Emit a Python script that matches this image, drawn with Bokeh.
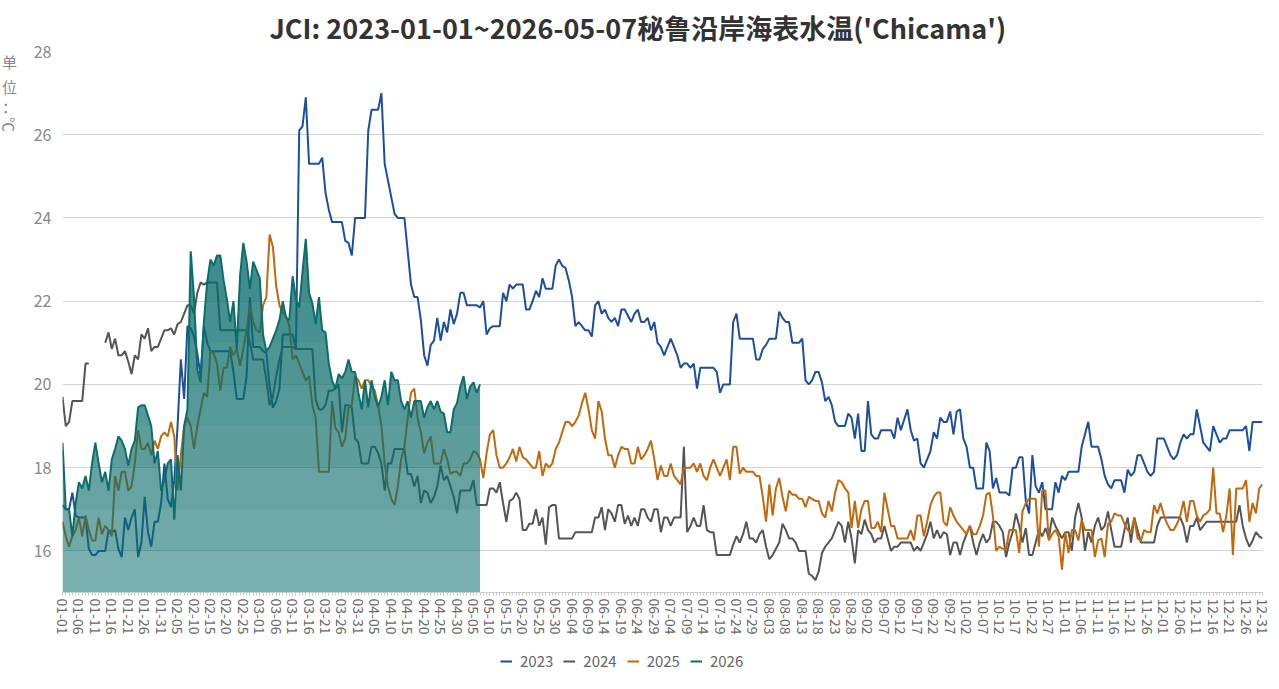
import numpy as np
import pandas as pd
from bokeh.plotting import figure
from bokeh.layouts import row, column
from bokeh.models import Range1d, FixedTicker, Legend, LegendItem, Label
from bokeh.embed import file_html
from bokeh.resources import INLINE

nan = float("nan")

# category axis: month-day of a leap year
day_labels = pd.date_range("2024-01-01", "2024-12-31").strftime("%m-%d").tolist()
years = ["2023", "2024", "2025", "2026"]
unit_chars = ["单", "位", "：", "℃"]

v2023 = [
    17.1, 17.0, 17.0, 17.4, 16.85, 16.8, 16.8, 16.8, 16.05, 15.9,
    15.9, 16.0, 16.0, 16.0, 16.5, 16.45, 16.5, 16.05, 15.85, 16.8,
    16.5, 16.8, 17.0, 15.85, 16.2, 17.3, 16.45, 16.1, 16.7, 16.7,
    17.15, 18.1, 17.25, 17.05, 17.7, 19.0, 20.6, 19.65, 21.4, 21.35,
    21.15, 20.75, 20.2, 21.4, 21.0, 20.8, 20.8, 20.8, 20.8, 20.8,
    20.8, 20.8, 20.3, 19.65, 19.65, 19.65, 20.2, 22.1, 20.9, 20.9,
    20.9, 20.8, 20.76, 19.96, 19.44, 19.6, 19.9, 21.2, 21.2, 21.2,
    21.2, 20.85, 26.1, 26.2, 26.9, 25.3, 25.3, 25.3, 25.3, 25.45,
    24.6, 24.2, 23.9, 23.9, 23.9, 23.9, 23.45, 23.4, 23.1, 24.0,
    24.0, 24.0, 24.0, 26.1, 26.6, 26.6, 26.6, 27.0, 25.3, 24.9,
    24.5, 24.1, 24.0, 24.0, 24.0, 23.2, 22.4, 22.1, 22.1, 21.55,
    20.7, 20.45, 20.95, 21.05, 21.6, 21.05, 21.5, 21.25, 21.8, 21.45,
    21.7, 22.2, 22.2, 21.9, 21.9, 21.9, 21.9, 21.85, 22.0, 21.2,
    21.35, 21.4, 21.4, 21.4, 22.2, 22.0, 22.4, 22.3, 22.4, 22.4,
    22.4, 21.8, 21.8, 22.0, 22.25, 22.1, 22.55, 22.3, 22.3, 22.3,
    22.85, 23.0, 22.85, 22.8, 22.5, 22.1, 21.4, 21.5, 21.4, 21.3,
    21.3, 21.15, 21.9, 22.0, 21.7, 21.8, 21.6, 21.5, 21.6, 21.4,
    21.8, 21.8, 21.65, 21.5, 21.7, 21.8, 21.5, 21.5, 21.6, 21.3,
    21.5, 21.0, 20.9, 20.7, 20.9, 21.1, 20.9, 20.7, 20.4, 20.5,
    20.5, 20.4, 20.5, 19.9, 20.4, 20.4, 20.4, 20.4, 20.4, 20.3,
    19.8, 20.0, 20.0, 20.0, 21.5, 21.7, 21.1, 21.1, 21.1, 21.1,
    21.1, 20.6, 20.6, 20.85, 20.95, 21.1, 21.1, 21.1, 21.75, 21.6,
    21.5, 21.5, 21.0, 21.0, 21.0, 21.1, 20.1, 20.0, 20.1, 20.3,
    20.3, 20.05, 19.6, 19.7, 19.5, 19.1, 19.0, 19.0, 19.0, 19.3,
    19.2, 18.7, 19.3, 18.4, 18.4, 19.6, 18.8, 18.7, 18.7, 18.9,
    18.9, 18.9, 18.9, 18.7, 19.2, 18.9, 19.15, 19.4, 18.9, 18.65,
    18.7, 18.1, 18.0, 18.2, 18.4, 18.85, 18.7, 19.2, 19.1, 19.1,
    19.35, 18.8, 19.35, 19.4, 18.7, 18.5, 18.0, 18.0, 17.5, 17.5,
    17.5, 18.6, 18.4, 17.5, 17.75, 17.4, 17.4, 17.4, 17.33, 18.0,
    18.0, 18.25, 18.25, 17.2, 16.9, 18.3, 17.55, 17.4, 17.65, 17.0,
    17.0, 17.0, 17.65, 17.4, 17.8, 17.7, 17.9, 17.9, 17.9, 17.9,
    18.5, 18.8, 19.1, 18.5, 18.5, 18.5, 18.2, 17.8, 17.6, 17.5,
    17.7, 17.7, 17.7, 17.4, 17.95, 17.8, 17.9, 18.3, 18.3, 18.1,
    17.9, 17.8, 17.9, 18.7, 18.7, 18.7, 18.5, 18.3, 18.2, 18.3,
    18.6, 18.8, 18.7, 18.8, 18.8, 19.4, 19.0, 18.6, 18.5, 18.4,
    19.0, 18.8, 18.6, 18.7, 18.7, 18.9, 18.9, 18.9, 18.9, 18.9,
    19.0, 18.4, 19.1, 19.1, 19.1, 19.1,
]

v2024 = [
    19.7, 19.0, 19.1, 19.6, 19.6, 19.6, 19.6, 20.5, 20.5, nan,
    nan, nan, nan, 21.0, 21.25, 20.85, 21.1, 20.7, 20.7, 20.8,
    20.55, 20.25, 20.7, 20.6, 21.2, 21.1, 21.35, 20.8, 20.9, 20.9,
    21.1, 21.3, 21.3, 21.35, 21.2, 21.45, 21.5, 21.7, 21.9, 21.9,
    21.7, 22.2, 22.45, 22.4, 22.45, 22.45, 22.45, 22.45, 21.3, 21.3,
    21.3, 21.3, 21.3, 21.3, 21.3, 21.3, 21.3, 21.0, 20.6, 20.6,
    20.6, 20.6, 20.1, 19.5, 19.7, 20.2, 20.6, 20.9, 20.9, 20.9,
    20.9, 20.85, 20.85, 20.85, 20.85, 20.85, 20.85, 19.65, 19.4, 19.4,
    19.5, 19.85, 19.85, 19.9, 20.0, 18.85, 19.5, 19.5, 19.45, 18.7,
    18.6, 18.1, 18.1, 18.1, 18.5, 18.5, 18.35, 18.1, 17.45, 18.1,
    18.1, 18.45, 18.45, 18.45, 18.45, 17.85, 17.85, 17.55, 17.8, 17.15,
    17.45, 17.4, 17.15, 17.3, 17.55, 18.05, 17.7, 17.8, 17.55, 17.3,
    16.9, 17.45, 17.45, 17.45, 17.45, 17.7, 17.1, 17.1, 17.1, 17.1,
    17.5, 17.5, 17.4, 17.65, 17.15, 16.7, 17.2, 17.25, 17.4, 17.25,
    16.5, 16.5, 16.65, 16.65, 17.0, 16.6, 16.8, 16.15, 17.05, 17.1,
    17.1, 16.3, 16.3, 16.3, 16.3, 16.3, 16.45, 16.45, 16.45, 16.45,
    16.45, 16.45, 16.8, 16.8, 17.05, 16.5, 17.0, 16.9, 16.7, 17.1,
    17.1, 16.65, 16.85, 16.6, 16.8, 16.6, 17.0, 17.0, 16.8, 16.7,
    17.0, 17.0, 16.45, 16.8, 16.8, 16.6, 16.8, 16.8, 16.8, 18.5,
    16.45, 16.6, 16.8, 16.6, 16.6, 17.1, 16.5, 16.45, 16.45, 15.9,
    15.9, 15.9, 15.9, 15.9, 16.15, 16.35, 16.2, 16.4, 16.7, 16.3,
    16.3, 16.2, 16.4, 16.5, 16.1, 15.8, 15.9, 16.05, 16.2, 16.65,
    16.5, 16.3, 16.3, 16.2, 16.0, 16.0, 16.0, 15.45, 15.4, 15.3,
    15.5, 15.95, 16.1, 16.2, 16.3, 16.5, 16.7, 16.6, 16.2, 16.7,
    16.3, 15.7, 16.5, 16.4, 16.75, 16.5, 16.4, 16.2, 16.3, 16.3,
    16.6, 16.3, 16.0, 16.1, 16.1, 16.2, 16.2, 16.2, 16.2, 16.0,
    16.1, 16.0, 16.2, 16.4, 16.7, 16.3, 16.5, 16.3, 16.45, 16.4,
    15.9, 16.2, 16.2, 15.9, 16.2, 16.4, 16.6, 16.2, 15.9, 16.2,
    16.4, 16.2, 16.3, 16.7, 16.7, 16.6, 16.45, 15.85, 16.2, 16.45,
    16.9, 16.6, 16.2, 16.55, 15.9, 15.9, 16.2, 16.5, 16.35, 16.55,
    16.3, 16.8, 16.6, 16.45, 16.3, 16.45, 16.45, 16.0, 16.8, 17.15,
    16.8, 16.0, 16.45, 16.2, 16.6, 16.8, 16.5, 16.6, 16.95, 16.5,
    16.1, 16.1, 16.1, 16.5, 16.8, 16.2, 16.8, 16.5, 16.2, 16.2,
    16.2, 16.2, 16.2, 16.6, 16.8, 16.8, 16.8, 16.8, 16.8, 16.8,
    16.8, 16.6, 16.2, 16.6, 16.6, 16.8, 16.5, 16.6, 16.7, 16.7,
    16.7, 16.7, 16.7, 16.7, 16.7, 16.7, 16.7, 16.7, 17.1, 16.6,
    16.3, 16.1, 16.25, 16.45, 16.35, 16.3,
]

v2025 = [
    16.7, 16.35, 16.1, 16.35, 16.5, 16.8, 16.35, 16.85, 16.5, 16.25,
    16.25, 16.8, 16.4, 16.6, 16.5, 16.35, 17.8, 17.45, 17.9, 17.9,
    17.45, 17.55, 18.1, 18.9, 18.45, 18.45, 18.6, 18.3, 18.65, 18.45,
    18.75, 18.85, 18.75, 19.1, 18.75, 17.45, 18.3, 19.0, 19.2, 19.0,
    18.45, 19.0, 19.4, 19.8, 19.7, 20.8, 20.75, 20.5, 19.85, 20.4,
    20.4, 20.9, 20.7, 20.85, 20.45, 20.85, 21.3, 21.9, 21.5, 21.3,
    21.25, 21.9, 22.1, 23.6, 23.3, 22.36, 21.9, 21.72, 21.64, 21.4,
    20.6, 20.7, 20.5, 20.3, 20.1, 20.2, 19.5, 19.2, 17.9, 17.9,
    17.9, 17.9, 19.6, 18.95, 18.85, 18.5, 18.7, 19.45, 19.5, 20.2,
    20.1, 19.9, 20.1, 20.1, 19.95, 19.85, 19.5, 19.0, 18.1, 17.55,
    17.25, 17.1, 17.55, 18.2, 18.5, 19.2, 19.8, 19.9, 19.2, 18.85,
    18.35, 18.6, 18.75, 18.1, 18.1, 18.1, 18.45, 18.2, 17.85, 17.9,
    17.9, 17.8, 18.1, 18.1, 18.2, 18.4, 18.35, 18.2, 17.75, 18.35,
    18.8, 18.9, 18.3, 18.0, 18.0, 18.1, 18.25, 18.45, 18.15, 18.5,
    18.25, 18.2, 18.1, 18.0, 18.0, 18.4, 17.8, 18.1, 18.0, 18.1,
    18.45, 18.6, 18.85, 19.1, 19.1, 19.0, 19.1, 19.25, 19.55, 19.8,
    19.4, 18.9, 18.7, 19.6, 19.35, 18.7, 18.3, 18.3, 18.0, 18.3,
    18.5, 18.45, 18.45, 18.1, 18.1, 18.5, 18.2, 18.3, 18.45, 18.65,
    18.2, 17.7, 18.05, 17.8, 17.8, 18.1, 17.8, 17.7, 17.6, 18.0,
    18.0, 18.0, 18.1, 17.9, 18.1, 17.8, 17.7, 18.0, 18.2, 18.0,
    17.8, 18.0, 18.2, 17.7, 18.5, 18.5, 17.85, 18.0, 17.9, 17.9,
    17.9, 17.8, 17.8, 17.3, 16.7, 17.6, 16.85, 17.5, 17.75, 17.3,
    16.95, 17.45, 17.35, 17.35, 17.25, 17.25, 17.05, 17.3, 17.25, 17.2,
    17.2, 16.9, 16.8, 17.2, 16.95, 17.4, 17.7, 17.65, 17.5, 17.4,
    16.55, 17.2, 16.55, 17.0, 17.2, 17.2, 16.55, 16.55, 16.7, 16.45,
    17.4, 17.0, 16.6, 16.6, 16.3, 16.3, 16.3, 16.3, 16.5, 16.25,
    16.85, 16.85, 16.35, 16.7, 17.1, 17.3, 17.4, 17.4, 16.7, 16.6,
    17.05, 16.85, 16.7, 16.6, 16.5, 16.4, 16.6, 16.4, 16.4, 16.6,
    16.85, 17.35, 17.4, 16.85, 16.0, 16.1, 16.05, 16.05, 16.5, 16.5,
    16.5, 15.95, 16.95, 17.15, 17.25, 17.25, 17.25, 16.1, 17.45, 17.45,
    16.25, 16.4, 16.5, 16.35, 15.55, 16.45, 15.95, 16.5, 16.5, 16.25,
    16.75, 16.5, 16.5, 16.5, 15.85, 16.25, 16.3, 15.85, 16.65, 16.7,
    16.9, 16.85, 16.85, 16.65, 16.5, 16.45, 16.8, 16.3, 16.25, 16.5,
    16.45, 16.45, 17.1, 16.9, 17.15, 16.85, 16.65, 16.5, 16.5, 16.65,
    16.85, 17.2, 16.7, 17.2, 17.2, 16.85, 16.7, 16.85, 16.9, 17.0,
    18.0, 16.9, 16.9, 16.45, 16.85, 17.5, 15.9, 17.5, 17.5, 17.5,
    17.7, 16.7, 17.15, 16.9, 17.5, 17.6,
]

v2026 = [
    18.6, 17.0, 17.0, 16.35, 17.15, 17.65, 17.5, 17.8, 17.45, 18.1,
    18.6, 18.1, 17.65, 17.9, 17.45, 18.2, 18.45, 18.75, 18.65, 18.45,
    18.05, 18.45, 18.65, 19.45, 19.5, 19.5, 19.25, 19.0, 18.1, 18.4,
    17.45, 17.7, 18.1, 18.2, 16.75, 18.3, 17.45, 19.0, 19.4, 23.2,
    22.1, 20.35, 20.05, 21.5, 22.45, 23.0, 22.85, 23.1, 23.1, 22.5,
    22.05, 21.5, 22.0, 20.85, 22.6, 23.4, 22.95, 22.3, 22.95, 22.75,
    22.55, 21.2, 20.8, 20.9, 21.1, 21.3, 21.55, 22.0, 21.6, 21.55,
    22.6, 22.05, 21.85, 22.7, 23.5, 22.2, 21.95, 21.45, 22.1, 21.3,
    21.25, 20.5, 20.1, 19.9, 20.25, 20.15, 20.3, 20.6, 20.3, 20.3,
    19.8, 19.4, 20.1, 19.45, 20.1, 19.7, 19.45, 19.7, 20.1, 19.5,
    20.3, 20.1, 20.1, 19.6, 19.4, 19.6, 19.2, 19.6, 19.6, 19.6,
    19.2, 19.45, 19.6, 19.4, 19.6, 19.35, 19.3, 18.85, 18.85, 19.4,
    19.55, 19.95, 20.2, 19.65, 19.95, 20.05, 19.8, 20.0,
]

colors = {"2023": "#1d4f9c", "2024": "#555555", "2025": "#c0690e", "2026": "#0b6e6b"}
FONT = "Noto Sans CJK SC"

TOP, FRAME_H, BOTTOM = 47, 541, 50

p = figure(frame_width=1200, frame_height=FRAME_H, output_backend="svg", toolbar_location=None,
           x_range=Range1d(0, 365), y_range=Range1d(15, 28), align="start",
           min_border_left=27, min_border_right=9, min_border_top=TOP, min_border_bottom=BOTTOM,
           outline_line_color=None, background_fill_color="white")

p.title.text = "JCI: 2023-01-01~2026-05-07秘鲁沿岸海表水温('Chicama')"
p.title.align = "left"
p.title.offset = 207
p.title.text_font = FONT
p.title.text_font_size = "27px"
p.title.text_font_style = "bold"
p.title.text_color = "#333333"

series = {"2023": v2023, "2024": v2024, "2025": v2025, "2026": v2026}
for yr in ["2023", "2024", "2025"]:
    ys = np.array(series[yr], dtype=float)
    xs = np.arange(len(ys))
    p.line(xs, ys, line_color=colors[yr], line_width=2)

# 2026 shaded area (vertical gradient approximated with layered bands)
y26 = np.array(v2026, dtype=float)
x26 = np.arange(len(y26))
p.varea(x=x26, y1=15, y2=y26, fill_color=colors["2026"], fill_alpha=0.55)
for lvl in [16, 17, 18, 19, 20, 21, 22, 23]:
    p.varea(x=x26, y1=lvl, y2=np.maximum(y26, lvl), fill_color=colors["2026"], fill_alpha=0.09)
p.line(x26, y26, line_color=colors["2026"], line_width=2)

# axes
p.yaxis.ticker = FixedTicker(ticks=[16, 18, 20, 22, 24, 26, 28])
p.yaxis.axis_line_color = None
p.yaxis.major_tick_line_color = None
p.yaxis.minor_tick_line_color = None
p.yaxis.major_label_text_color = "#888888"
p.yaxis.major_label_text_font = FONT
p.yaxis.major_label_text_font_size = "16px"
p.yaxis.major_label_standoff = 5

p.xaxis.ticker = FixedTicker(ticks=list(range(0, 366, 5)), minor_ticks=list(range(366)))
p.xaxis.major_label_overrides = {i: day_labels[i] for i in range(0, 366, 5)}
p.xaxis.major_label_orientation = -np.pi / 2
p.xaxis.major_label_text_color = "#6a6a6a"
p.xaxis.major_label_text_font = FONT
p.xaxis.major_label_text_font_size = "14px"
p.xaxis.axis_label = None
p.xaxis.axis_label_standoff = 0
p.xaxis.axis_line_color = "#cccccc"
p.xaxis.major_tick_line_color = "#cccccc"
p.xaxis.minor_tick_line_color = "#cccccc"
p.xaxis.major_tick_in = 0
p.xaxis.major_tick_out = 3
p.xaxis.minor_tick_in = 0
p.xaxis.minor_tick_out = 3
p.xaxis.major_label_standoff = 3

p.xgrid.grid_line_color = None
p.ygrid.grid_line_color = "#d4d4d4"
p.ygrid.grid_line_width = 1

# narrow side panel carrying the vertical unit label (same total height as the chart)
U_H = FRAME_H + BOTTOM
u = figure(frame_width=30, frame_height=U_H, output_backend="svg", toolbar_location=None,
           x_range=Range1d(0, 30), y_range=Range1d(0, U_H), align="start",
           min_border_left=0, min_border_right=0, min_border_top=TOP, min_border_bottom=0,
           outline_line_color=None)
u.xaxis.visible = False
u.yaxis.visible = False
u.grid.grid_line_color = None
unit_y = [U_H - 10, U_H - 35, U_H - 55, U_H - 73]
unit_angle = [0, 0, 0, -np.pi / 2]
for ch, yy, ang in zip(unit_chars, unit_y, unit_angle):
    u.add_layout(Label(x=9, y=yy, text=ch, angle=ang, text_font=FONT, text_font_size="15px",
                       text_color="#888888", text_align="center", text_baseline="middle"))

# legend strip below the chart (its line renderers sit outside the visible range)
LF_H = 36
lf = figure(frame_width=1200, frame_height=LF_H, output_backend="svg", toolbar_location=None,
            x_range=Range1d(0, 1), y_range=Range1d(0, 1), align="start",
            min_border_left=57, min_border_right=9, min_border_top=0, min_border_bottom=0,
            outline_line_color=None)
lf.axis.visible = False
lf.grid.grid_line_color = None
items = []
for yr in years:
    r = lf.line(x=[5, 6], y=[5, 6], line_color=colors[yr], line_width=2)
    items.append(LegendItem(label=yr, renderers=[r]))
legend = Legend(items=items, orientation="horizontal", location=(443, 7),
                border_line_color=None, background_fill_alpha=0,
                label_text_font=FONT, label_text_font_size="15px", label_text_color="#666666",
                label_height=16, glyph_width=12, glyph_height=12, spacing=10, label_standoff=8,
                padding=2, margin=0)
lf.add_layout(legend, "center")

layout = column(row(u, p, spacing=0), lf, spacing=0)
open("out.html", "w").write(file_html(layout, INLINE))
